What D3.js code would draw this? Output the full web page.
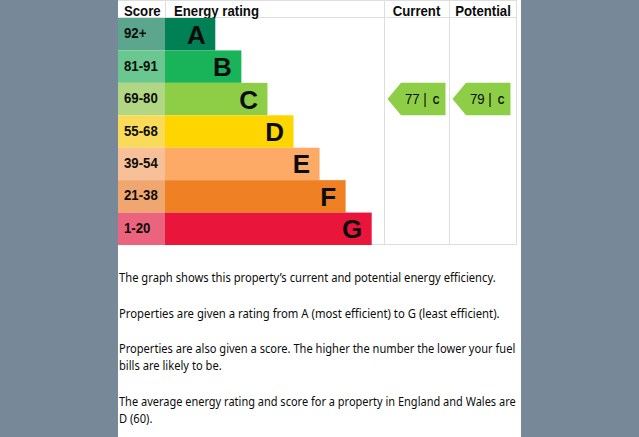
<!DOCTYPE html>
<html>
<head>
<meta charset="utf-8">
<script src="https://cdn.jsdelivr.net/npm/d3@7/dist/d3.min.js"></script>
<style>
  html, body { margin: 0; padding: 0; background: #778899; }
  svg { display: block; }
</style>
</head>
<body>
<svg id="chart" width="639" height="437"></svg>
<script>
// ---- data ----
const bands = ["A", "B", "C", "D", "E", "F", "G"];
const scoreRanges = ["92+", "81-91", "69-80", "55-68", "39-54", "21-38", "1-20"];
const bandColors = ["#008054", "#19b459", "#8dce46", "#ffd500", "#fcaa65", "#ef8023", "#e9153b"];
const columnHeaders = ["Score", "Energy rating", "Current", "Potential"];
const ratingColumns = ["Current", "Potential"];
const ratingScores = [77, 79];
const ratingBands = ["C", "C"];
const paragraphs = [
  ["The graph shows this property\u2019s current and potential energy efficiency."],
  ["Properties are given a rating from A (most efficient) to G (least efficient)."],
  ["Properties are also given a score. The higher the number the lower your fuel", "bills are likely to be."],
  ["The average energy rating and score for a property in England and Wales are", "D (60)."]
];

// ---- layout ----
const W = 639, H = 437;
const panelL = 118, panelR = 521;
const scoreL = 118, barL = 165, tableR = 517;
const tableTop = 0.5, headerB = 17.5, tableB = 245;
const smallScale = 0.88;
const boldFont = "'Liberation Sans', Arial, sans-serif";
// measured right edges of the full-width text lines (null = short line)
const lineRight = [496, 500, 516, null, 516, null];

const svg = d3.select("#chart");
svg.append("rect").attr("width", W).attr("height", H).attr("fill", "#778899");
svg.append("rect").attr("x", panelL).attr("y", 0).attr("width", panelR - panelL).attr("height", H).attr("fill", "#ffffff");

const y = d3.scaleBand().domain(bands).range([18, tableB]).padding(0);
const barEnd = d3.scaleLinear().domain([0, bands.length - 1]).range([215.3, 371.7]);
const col = d3.scaleOrdinal().domain(ratingColumns).range([[384, 449], [449, tableR]]);
const tint = c => { const a = d3.rgb(c), o = 0.62; return d3.rgb(a.r * o + 255 * (1 - o) - 6, a.g * o + 255 * (1 - o) - 10, a.b * o + 255 * (1 - o) - 8).toString(); };

// grid lines
const grid = svg.append("g").attr("stroke", "#dedede").attr("stroke-width", 1);
[tableTop, headerB, tableB - 0.5].forEach(v => grid.append("line").attr("x1", scoreL).attr("x2", tableR).attr("y1", v).attr("y2", v));
grid.append("line").attr("x1", barL + 0.5).attr("x2", barL + 0.5).attr("y1", 0).attr("y2", headerB);
[384.5, 449.5, tableR - 0.5].forEach(v => grid.append("line").attr("x1", v).attr("x2", v).attr("y1", 0).attr("y2", tableB));

// headers
const headerX = { "Score": [scoreL + 6, "start"], "Energy rating": [barL + 9, "start"], "Current": [416.5, "middle"], "Potential": [483, "middle"] };
columnHeaders.forEach(h => {
  const [hx, anchor] = headerX[h];
  svg.append("text")
    .attr("transform", `translate(${hx},15.5) scale(${smallScale},1)`)
    .attr("text-anchor", anchor)
    .attr("font-family", boldFont).attr("font-weight", "bold").attr("font-size", 15)
    .attr("fill", "#0b0c0c").text(h);
});

// rows
const rows = svg.append("g").selectAll("g").data(bands).join("g");
rows.append("rect")
  .attr("x", scoreL).attr("y", d => y(d)).attr("width", barL - scoreL).attr("height", y.bandwidth())
  .attr("fill", (d, i) => tint(bandColors[i]));
rows.append("rect")
  .attr("x", barL).attr("y", d => y(d)).attr("width", (d, i) => barEnd(i) - barL).attr("height", y.bandwidth())
  .attr("fill", (d, i) => bandColors[i]);
rows.append("text")
  .attr("transform", d => `translate(${scoreL + 6},${y(d) + y.bandwidth() / 2 + 4}) scale(${smallScale},1)`)
  .attr("font-family", boldFont).attr("font-weight", "bold").attr("font-size", 15)
  .attr("fill", "#0b0c0c").text((d, i) => scoreRanges[i]);
rows.append("text")
  .attr("x", (d, i) => barEnd(i) - 9.5).attr("y", d => y(d) + y.bandwidth() / 2 + 9.5)
  .attr("text-anchor", "end")
  .attr("font-family", boldFont).attr("font-weight", "bold").attr("font-size", 26)
  .attr("fill", "#0b0c0c").text(d => d);

// rating arrows
ratingColumns.forEach((c, i) => {
  const [cl] = col(c);
  const band = ratingBands[i];
  const bi = bands.indexOf(band);
  const y0 = y(band), h = y.bandwidth(), x0 = cl + 3.5, x1 = x0 + 58, tip = 13.5;
  svg.append("path")
    .attr("d", `M${x0},${y0 + h / 2} L${x0 + tip},${y0} L${x1},${y0} L${x1},${y0 + h} L${x0 + tip},${y0 + h} Z`)
    .attr("fill", bandColors[bi]);
  const t = svg.append("text")
    .attr("transform", `translate(${x1 - 6},${y0 + h / 2 + 5}) scale(${smallScale},1)`)
    .attr("text-anchor", "end")
    .attr("font-family", boldFont).attr("font-size", 15).attr("fill", "#0b0c0c");
  t.append("tspan").text(ratingScores[i] + " |");
  t.append("tspan").attr("dx", 7).attr("font-weight", "bold").attr("font-size", 10.5).text(band);
});

// paragraphs
const para = svg.append("g");
let base = 282;
const lineEls = [];
paragraphs.forEach(p => {
  p.forEach(line => {
    lineEls.push(para.append("text").attr("x", 0).attr("y", 0)
      .attr("data-base", base)
      .attr("font-family", "'Noto Sans', 'Open Sans', sans-serif").attr("font-size", 12.5)
      .attr("fill", "#0b0c0c").text(line));
    base += 17;
  });
  base += 18.6;
});
const ks = [];
lineEls.forEach((el, i) => {
  if (lineRight[i] != null) ks[i] = (lineRight[i] - 119) / el.node().getComputedTextLength();
});
const kAvg = d3.mean(ks.filter(v => v != null));
lineEls.forEach((el, i) => el.attr("transform", `translate(119,${el.attr("data-base")}) scale(${ks[i] != null ? ks[i] : kAvg},1)`));
</script>
</body>
</html>
